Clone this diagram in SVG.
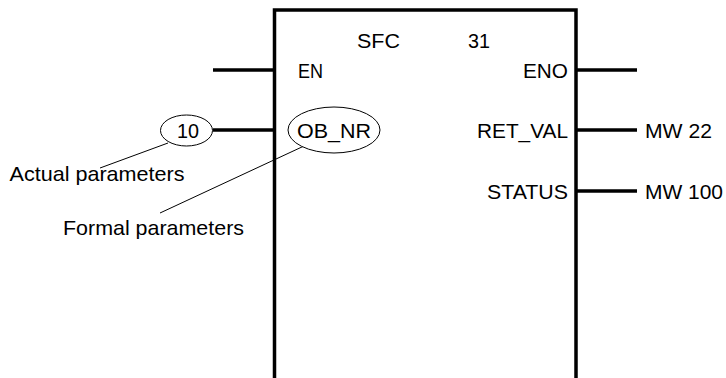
<svg xmlns="http://www.w3.org/2000/svg" width="726" height="378" viewBox="0 0 726 378">
<style>
text{font-family:"Liberation Sans",Arial,sans-serif;font-size:21px;fill:#000}
.pin{stroke:#000;stroke-width:3.5;fill:none}
.lead{stroke:#000;stroke-width:1;fill:none}
.ell{stroke:#000;stroke-width:1;fill:#fff}
</style>
<rect width="726" height="378" fill="#fff"/>
<g id="block">
<path d="M274.5,378 V10 H576 V378" fill="#fff" stroke="#000" stroke-width="3.5"/>
<text x="357" y="47.5" textLength="43" lengthAdjust="spacingAndGlyphs">SFC</text>
<text x="468" y="47.5" textLength="22" lengthAdjust="spacingAndGlyphs">31</text>
<text x="298" y="78" textLength="25" lengthAdjust="spacingAndGlyphs">EN</text>
<text x="523" y="78" textLength="45" lengthAdjust="spacingAndGlyphs">ENO</text>
<text x="477" y="138" textLength="91" lengthAdjust="spacingAndGlyphs">RET_VAL</text>
<text x="487" y="199" textLength="81" lengthAdjust="spacingAndGlyphs">STATUS</text>
</g>
<g id="connectors">
<line class="pin" x1="213" y1="70" x2="274" y2="70"/>
<line class="pin" x1="213" y1="130" x2="274" y2="130"/>
<line class="pin" x1="576" y1="70" x2="637" y2="70"/>
<line class="pin" x1="576" y1="130" x2="637" y2="130"/>
<line class="pin" x1="576" y1="191" x2="637" y2="191"/>
<line class="lead" x1="100" y1="168" x2="168" y2="143"/>
<line class="lead" x1="160" y1="213" x2="304" y2="146"/>
</g>
<g id="actual-10">
<ellipse class="ell" cx="186.5" cy="130.5" rx="26" ry="15.5"/>
<text x="177" y="138" textLength="22" lengthAdjust="spacingAndGlyphs">10</text>
</g>
<g id="formal-obnr">
<ellipse class="ell" cx="334" cy="130" rx="46" ry="23"/>
<text x="297" y="138" textLength="74" lengthAdjust="spacingAndGlyphs">OB_NR</text>
</g>
<g id="mw22"><text x="645" y="138" textLength="67" lengthAdjust="spacingAndGlyphs">MW 22</text></g>
<g id="mw100"><text x="645" y="199" textLength="78" lengthAdjust="spacingAndGlyphs">MW 100</text></g>
<g id="label-actual"><text x="9.5" y="181" textLength="175" lengthAdjust="spacingAndGlyphs">Actual parameters</text></g>
<g id="label-formal"><text x="63" y="235" textLength="181" lengthAdjust="spacingAndGlyphs">Formal parameters</text></g>
</svg>
